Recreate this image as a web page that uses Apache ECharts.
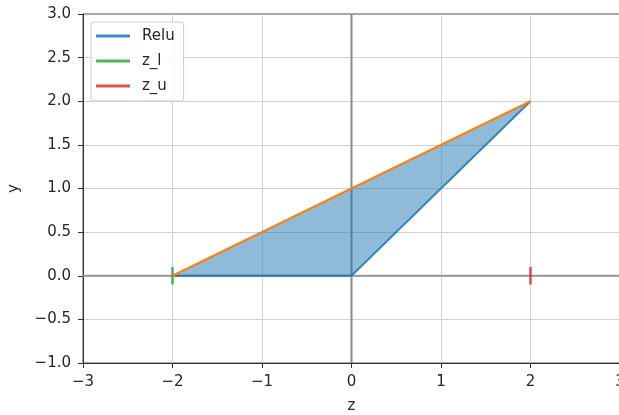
<!DOCTYPE html>
<html>
<head>
<meta charset="utf-8">
<script src="https://cdn.jsdelivr.net/npm/echarts@6/dist/echarts.min.js"></script>
<style>
  html, body { margin: 0; padding: 0; background: #fff; }
  #chart { width: 619px; height: 415px; }
</style>
</head>
<body>
<div id="chart"></div>
<script>
  // ReLU and its linear upper bound on [z_l, z_u]
  var reluZ = [-2, 0, 2];
  var reluY = [0, 0, 2];
  var upperZ = [-2, 2];
  var upperY = [0, 2];
  var zLower = -2;
  var zUpper = 2;
  var markHalf = 0.1;          // half-height of the z_l / z_u markers
  var xRange = [-3, 3];
  var yRange = [-1, 3];

  function pairs(xs, ys) { return xs.map(function (x, i) { return [x, ys[i]]; }); }
  function minus(s) { return String(s).replace("-", "\u2212"); }

  var FONT = "DejaVu Sans";
  var BLUE = "rgba(31,119,180,0.85)", GREEN = "rgba(44,160,44,0.8)", RED = "rgba(214,39,40,0.8)";
  var ORANGE = "#ff7f0e", AXIS = "#333", TEXT = "#262626";

  // shaded region between the upper bound and relu
  var polyPts = pairs(upperZ, upperY).concat(pairs(reluZ, reluY).reverse());

  var chart = echarts.init(document.getElementById("chart"));
  chart.setOption({
    animation: false,
    textStyle: { fontFamily: FONT },
    grid: {
      left: 83, top: 14, width: 537, height: 349, outerBoundsMode: "none",
      show: true, borderColor: "#555", borderWidth: 1
    },
    legend: {
      left: 91, top: 22, orient: "vertical",
      padding: [6, 9, 7, 5], itemGap: 9, itemWidth: 34, itemHeight: 3,
      backgroundColor: "rgba(255,255,255,0.85)", borderColor: "#ccc", borderWidth: 1, borderRadius: 3,
      textStyle: { fontFamily: FONT, fontSize: 15, color: TEXT, lineHeight: 16, padding: [0, 0, 0, 7] },
      data: [
        { name: "Relu", icon: "rect", itemStyle: { color: BLUE } },
        { name: "z_l", icon: "rect", itemStyle: { color: GREEN } },
        { name: "z_u", icon: "rect", itemStyle: { color: RED } }
      ]
    },
    xAxis: {
      type: "value", min: xRange[0], max: xRange[1], interval: 1,
      name: "z", nameLocation: "middle", nameGap: 36,
      nameTextStyle: { fontFamily: FONT, fontSize: 15, color: TEXT },
      axisLine: { onZero: false, lineStyle: { color: AXIS } },
      axisTick: { show: true, length: 5, lineStyle: { color: AXIS } },
      axisLabel: { margin: 12, fontFamily: FONT, fontSize: 15, color: TEXT, formatter: function (v) { return minus(v); } },
      splitLine: { show: true, showMinLine: false, showMaxLine: false, lineStyle: { color: "#d0d0d0", width: 1 } }
    },
    yAxis: {
      type: "value", min: yRange[0], max: yRange[1], interval: 0.5,
      name: "y", nameLocation: "middle", nameGap: 61,
      nameTextStyle: { fontFamily: FONT, fontSize: 15, color: TEXT },
      axisLine: { onZero: false, lineStyle: { color: AXIS } },
      axisTick: { show: true, length: 5, lineStyle: { color: AXIS } },
      axisLabel: { margin: 12, fontFamily: FONT, fontSize: 15, color: TEXT, formatter: function (v) { return minus(v.toFixed(1)); } },
      splitLine: { show: true, showMinLine: false, showMaxLine: false, lineStyle: { color: "#d0d0d0", width: 1 } }
    },
    series: [
      { type: "line", name: "hline", data: pairs(xRange, [0, 0]), symbol: "none", silent: true,
        lineStyle: { color: "#999", width: 2 }, z: 1 },
      { type: "line", name: "vline", data: pairs([0, 0], yRange), symbol: "none", silent: true,
        lineStyle: { color: "#8a8a8a", width: 2 }, z: 1 },
      {
        type: "custom", name: "fill", silent: true, z: 2,
        data: [0],
        renderItem: function (params, api) {
          return {
            type: "polygon",
            shape: { points: polyPts.map(function (p) { return api.coord(p); }) },
            style: { fill: "rgba(31,119,180,0.5)" }
          };
        }
      },
      { type: "line", name: "Relu", data: pairs(reluZ, reluY), symbol: "none",
        itemStyle: { color: BLUE }, lineStyle: { color: BLUE, width: 2 }, z: 3 },
      { type: "line", name: "z_l", data: pairs([zLower, zLower], [-markHalf, markHalf]), symbol: "none",
        itemStyle: { color: GREEN }, lineStyle: { color: GREEN, width: 2.5 }, z: 4 },
      { type: "line", name: "z_u", data: pairs([zUpper, zUpper], [-markHalf, markHalf]), symbol: "none",
        itemStyle: { color: RED }, lineStyle: { color: RED, width: 2.5 }, z: 4 },
      { type: "line", name: "upper", data: pairs(upperZ, upperY), symbol: "none",
        lineStyle: { color: ORANGE, width: 2 }, z: 5 }
    ]
  });
</script>
</body>
</html>
